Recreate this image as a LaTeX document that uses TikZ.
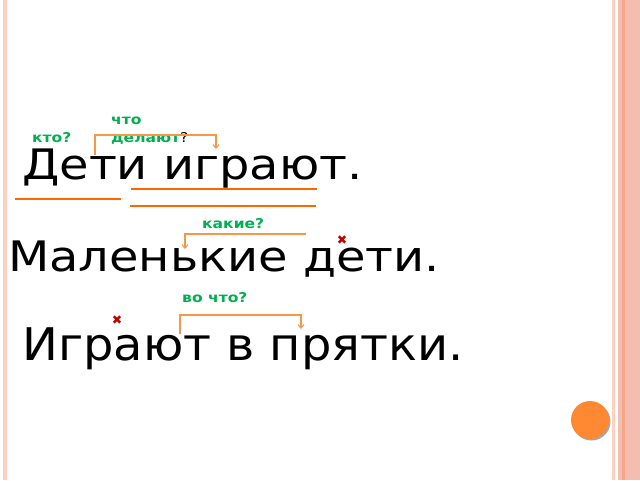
\documentclass[tikz,border=0pt]{standalone}
\usepackage{fontspec}
\setmainfont{DejaVu Sans}
\newfontfamily\sentfont[FakeStretch=1.14]{DejaVu Sans}
\newfontfamily\sentfontwide[FakeStretch=1.065]{DejaVu Sans}
\newfontfamily\askfont[FakeStretch=1.15]{DejaVu Sans}
\usetikzlibrary{positioning, arrows.meta}
\usepackage{xcolor}
\definecolor{askgreen}{RGB}{0,176,80}
\definecolor{linkorange}{RGB}{247,150,70}
\definecolor{lineorange}{RGB}{255,102,0}
\definecolor{crossred}{RGB}{192,0,0}
\definecolor{stripe}{RGB}{243,190,176}
\definecolor{stripedark}{RGB}{247,165,130}
\definecolor{stripelight}{RGB}{253,208,192}
\definecolor{dotorange}{RGB}{255,136,51}

\tikzset{
    word/.style={anchor=base west, inner sep=0pt, font=\sentfont\fontsize{42}{50}\selectfont},
    ask/.style={anchor=base west, inner sep=0pt, text=askgreen, font=\askfont\bfseries\fontsize{13.5}{16}\selectfont},
    link/.style={draw=linkorange, line width=1.1pt, -{Straight Barb[length=3.5pt, width=6pt]}},
    underl/.style={draw=lineorange, line width=2.8pt},
    cross/.style={inner sep=0pt, text=crossred, font=\fontsize{12.5}{13}\selectfont}
}

\begin{document}
\begin{tikzpicture}[x=1pt, y=-1pt]
            % frame of the slide
            \useasboundingbox (0,0) rectangle (640,480);
            \fill[white] (0,0) rectangle (640,480);
            \fill[stripelight] (3,0) rectangle (7,480);
            \fill[stripelight] (612,0) rectangle (614.5,480);
            \fill[stripe] (618,0) rectangle (640,480);
            \fill[stripedark] (622,0) rectangle (625,480);
            \fill[black!35] (591.5,421.5) circle (19);
            \fill[dotorange] (590,420) circle (19);
            % sentences
            \node[word](s1) at (22,179){Дети играют.};
            \node[word](s2) at (8,271){Маленькие дети.};
            \node[word, font=\sentfontwide\fontsize{45}{52}\selectfont](s3) at (22,360){Играют в прятки.};
            % questions
            \node[ask](who) at (32,142){кто?};
            \node[ask](what1) at (111,124){что};
            \node[ask](what2) at (111,142){делают\textcolor{black}{\mdseries ?}};
            \node[ask](which) at (202,228){какие?};
            \node[ask](where) at (182,302){во что?};
            % brackets
            \coordinate (b1) at (95,155);
            \coordinate (e1) at (216,149);
            \coordinate (b2) at (306,234);
            \coordinate (e2) at (185,249);
            \coordinate (b3) at (180,334);
            \coordinate (e3) at (301,329);
            \draw[link] (b1) -- (95,135) -| (e1);
            \draw[link] (b2) -| (e2);
            \draw[link] (b3) -- (180,315) -| (e3);
            % underlines
            \coordinate (u1) at (15,199);
            \coordinate (v1) at (121,199);
            \coordinate (u2) at (131,189);
            \coordinate (v2) at (317,189);
            \coordinate (u3) at (130,206);
            \coordinate (v3) at (316,206);
            \draw[underl] (u1) -- (v1);
            \draw[underl] (u2) -- (v2);
            \draw[underl] (u3) -- (v3);
            % crosses
            \node[cross](x1) at (342,240){✖};
            \node[cross](x2) at (117,320){✖};
            \end{tikzpicture}
\end{document}
